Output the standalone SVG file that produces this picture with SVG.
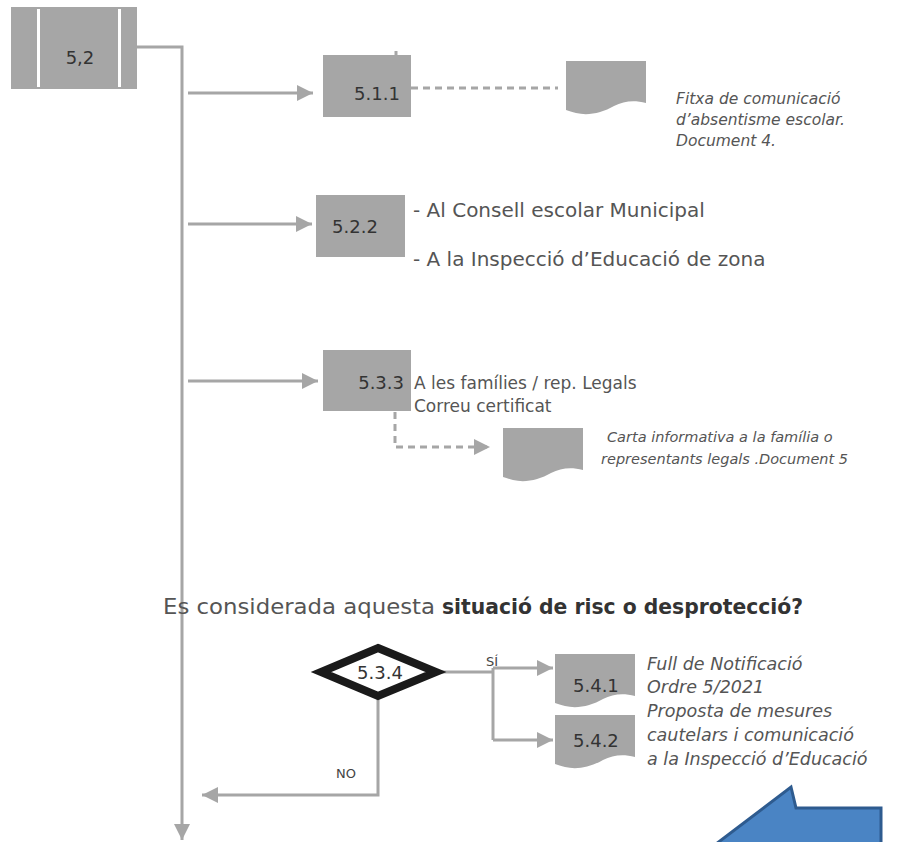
<svg xmlns="http://www.w3.org/2000/svg" width="898" height="842" viewBox="0 0 898 842">
<defs>
<style>
.box{fill:#a6a6a6}
.ln{stroke:#a6a6a6;stroke-width:3;fill:none}
.dash{stroke:#a6a6a6;stroke-width:3;fill:none;stroke-dasharray:7 5}
.lbl{font-family:"DejaVu Sans",sans-serif;font-size:18px;fill:#333}
.txt{font-family:"DejaVu Sans",sans-serif;fill:#555}
.it{font-family:"DejaVu Sans",sans-serif;font-style:italic;fill:#555}
.sm{font-family:"DejaVu Sans",sans-serif;font-size:13px;fill:#444}
</style>
<marker id="ah" viewBox="0 0 10 10" refX="10" refY="5" markerWidth="24" markerHeight="16" markerUnits="userSpaceOnUse" orient="auto">
<path d="M0,0 L10,5 L0,10 Z" fill="#a6a6a6"/>
</marker>
<path id="doc" d="M0,0 H80 V42 C68,39 58,40 48,45 C36,52 22,55 10,52 C6,51 3,50 0,49 Z" class="box"/>
</defs>
<rect width="898" height="842" fill="#ffffff"/>

<g id="connectors">
<polyline class="ln" points="137,47 182,47 182,840" marker-end="url(#ah)"/>
<line class="ln" x1="188" y1="93" x2="313" y2="93" marker-end="url(#ah)"/>
<line class="ln" x1="188" y1="224" x2="312" y2="224" marker-end="url(#ah)"/>
<line class="ln" x1="188" y1="381" x2="318" y2="381" marker-end="url(#ah)"/>
<line class="dash" x1="411" y1="88" x2="558" y2="88"/>
<polyline class="dash" points="395,412 395,447 490,447" marker-end="url(#ah)"/>
<polyline class="ln" points="437,672 493,672"/>
<polyline class="ln" points="493,668 493,740"/>
<line class="ln" x1="493" y1="668" x2="553" y2="668" marker-end="url(#ah)"/>
<line class="ln" x1="493" y1="740" x2="553" y2="740" marker-end="url(#ah)"/>
<polyline class="ln" points="378,697 378,795 202,795" marker-end="url(#ah)"/>
<line class="ln" x1="396" y1="51" x2="396" y2="56" stroke-width="1.5"/>
</g>

<g id="n52">
<rect class="box" x="11" y="7" width="126" height="82"/>
<rect x="37" y="9" width="3" height="78" fill="#fff"/>
<rect x="118" y="9" width="3" height="78" fill="#fff"/>
<text class="lbl" x="80" y="64" text-anchor="middle">5,2</text>
</g>

<g id="n511">
<rect class="box" x="323" y="55" width="88" height="62"/>
<text class="lbl" x="377" y="100" text-anchor="middle">5.1.1</text>
</g>

<g id="doc4">
<use href="#doc" x="566" y="61"/>
<text class="it" style="font-size:15.5px"><tspan x="676" y="104">Fitxa de comunicació</tspan><tspan x="676" y="125">d’absentisme escolar.</tspan><tspan x="676" y="146">Document  4.</tspan></text>
</g>

<g id="n522">
<rect class="box" x="316" y="195" width="89" height="62"/>
<text class="lbl" x="355" y="233" text-anchor="middle">5.2.2</text>
<text class="txt" x="413" y="217" style="font-size:20px">- Al Consell escolar Municipal</text>
<text class="txt" x="413" y="266" style="font-size:20px">- A la Inspecció d’Educació de zona</text>
</g>

<g id="n533">
<rect class="box" x="323" y="350" width="88" height="61"/>
<text class="lbl" x="404" y="389" text-anchor="end">5.3.3</text>
<text class="txt" x="414" y="389" style="font-size:17px">A les famílies / rep. Legals</text>
<text class="txt" x="414" y="412" style="font-size:17px">Correu certificat</text>
</g>

<g id="doc5">
<use href="#doc" x="503" y="428"/>
<text class="it" style="font-size:14.5px"><tspan x="607" y="442">Carta informativa a la família o</tspan><tspan x="601" y="464">representants legals .Document 5</tspan></text>
</g>

<g id="question">
<text class="txt" x="163" y="614" style="font-size:21px" textLength="272" lengthAdjust="spacingAndGlyphs">Es considerada aquesta</text>
<text class="txt" x="442" y="614" style="font-size:21px;font-weight:bold;fill:#333" textLength="361" lengthAdjust="spacingAndGlyphs">situació de risc o desprotecció?</text>
</g>

<g id="n534">
<polygon points="378,648 436,672 378,696 321,672" fill="#fff" stroke="#1a1a1a" stroke-width="8" stroke-linejoin="miter"/>
<text class="lbl" x="380" y="679" text-anchor="middle" style="font-size:18px">5.3.4</text>
<text class="sm" x="486" y="666">SÍ</text>
<text class="sm" x="336" y="778">NO</text>
</g>

<g id="n541">
<use href="#doc" x="555" y="654"/>
<text class="lbl" x="573" y="692">5.4.1</text>
<text class="it" style="font-size:17.5px"><tspan x="647" y="670">Full de Notificació</tspan><tspan x="647" y="693">Ordre 5/2021</tspan></text>
</g>

<g id="n542">
<use href="#doc" x="555" y="715"/>
<text class="lbl" x="573" y="747">5.4.2</text>
<text class="it" style="font-size:17.5px"><tspan x="647" y="717">Proposta de mesures</tspan><tspan x="647" y="741">cautelars i comunicació</tspan><tspan x="647" y="765">a la Inspecció d’Educació</tspan></text>
</g>

<g id="bluearrow">
<polygon points="716,844 791,787 796,808 881,808 881,844" fill="#4a84c4" stroke="#2e5b8f" stroke-width="3"/>
</g>
</svg>
